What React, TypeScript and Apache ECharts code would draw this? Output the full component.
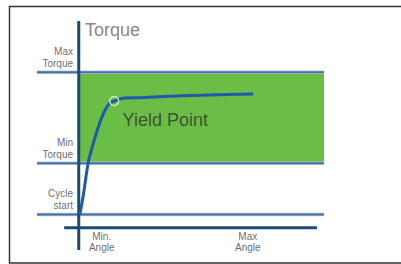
import React, { useEffect, useRef } from "react";
import * as echarts from "echarts";

// Reference levels (torque units) and extents
const cycleStart = 6;
const minTorque = 29;
const maxTorque = 70;
const refLineX = [-16, 94];
const bandX = [0, 94];
const xAxisLine = [[-5.6, 0], [91.3, 0]];
const yAxisLine = [[0, -10], [0, 93]];

// Torque curve (angle, torque)
const curveAngle = [0.4, 1.8, 3.7, 6.2, 8.2, 10.1, 12.0, 13.6, 17.1, 23.5, 37.6, 50.3, 66.9];
const curveTorque = [6, 15, 29.7, 40.4, 47.7, 53, 56.1, 57, 58.3, 58.5, 59.3, 59.7, 60.2];
const yieldPoint = [13.6, 57];

// Left labels at each level
const levelLabels = ["Max\nTorque", "Min\nTorque", "Cycle\nstart"];
const levelValues = [maxTorque, minTorque, cycleStart];
const angleLabels = ["Min.\nAngle", "Max\nAngle"];
const angleValues = [8.8, 64.8];

const FONT = "'Liberation Sans', Arial, sans-serif";

export default function App() {
  const ref = useRef<HTMLDivElement>(null);
  useEffect(() => {
    if (!ref.current) return;
    const chart = echarts.init(ref.current, undefined, { renderer: "svg" });
    const refColor = "#4a70a6";
    const axisColor = "#1b4a77";
    const refLine = (y: number, w: number, c: string, z: number) => ({
      type: "line",
      data: [[refLineX[0], y], [refLineX[1], y]],
      symbol: "none",
      clip: false,
      lineStyle: { color: c, width: w },
      silent: true,
      z,
    });
    const refLines: any[] = [];
    [maxTorque, minTorque, cycleStart].forEach((v) => {
      refLines.push(refLine(v, 3.5, "#b4c6de", 2));
      refLines.push(refLine(v, 2, refColor, 3));
    });
    chart.setOption({
      animation: false,
      backgroundColor: "#ffffff",
      grid: { left: 37, right: 77, top: 21, bottom: 14 },
      xAxis: { type: "value", min: -16, max: 94, show: false },
      yAxis: { type: "value", min: -10, max: 93, show: false },
      graphic: [
        {
          type: "rect",
          shape: { x: 9.5, y: 6.5, width: 400, height: 256.5 },
          style: { fill: "none", stroke: "#333333", lineWidth: 1.5 },
          z: 100,
        },
      ],
      series: [
        {
          type: "line",
          data: [],
          markArea: {
            silent: true,
            itemStyle: { color: "#6abd45" },
            data: [[{ coord: [bandX[0], minTorque] }, { coord: [bandX[1], maxTorque] }]],
          },
          z: 1,
        },
        ...refLines,
        {
          type: "line",
          data: xAxisLine,
          symbol: "none",
          clip: false,
          lineStyle: { color: axisColor, width: 3 },
          z: 4,
        },
        {
          type: "line",
          data: yAxisLine,
          symbol: "none",
          clip: false,
          lineStyle: { color: axisColor, width: 3 },
          z: 4,
        },
        {
          type: "line",
          data: curveAngle.map((a, i) => [a, curveTorque[i]]),
          symbol: "none",
          smooth: 0.3,
          clip: false,
          lineStyle: { color: "#1f5aa8", width: 3 },
          z: 5,
        },
        {
          type: "scatter",
          data: [yieldPoint],
          symbol: "circle",
          symbolSize: 9,
          itemStyle: { color: "rgba(0,0,0,0)", borderColor: "#e8f2e0", borderWidth: 1.5 },
          z: 6,
        },
        {
          type: "scatter",
          symbolSize: 0,
          z: 7,
          data: levelValues.map((v, i) => ({ value: [-2.2, v], name: levelLabels[i] })),
          label: {
            show: true,
            position: [0, -3],
            align: "right",
            verticalAlign: "bottom",
            formatter: (p: any) => p.name,
            fontFamily: FONT,
            fontSize: 10,
            lineHeight: 12,
            color: "#444444",
          },
        },
        {
          type: "scatter",
          symbolSize: 0,
          z: 7,
          data: angleValues.map((v, i) => ({ value: [v, 0], name: angleLabels[i] })),
          label: {
            show: true,
            position: [0, 3],
            align: "center",
            verticalAlign: "top",
            formatter: (p: any) => p.name,
            fontFamily: FONT,
            fontSize: 10,
            lineHeight: 11,
            color: "#444444",
          },
        },
        {
          type: "scatter",
          symbolSize: 0,
          z: 7,
          data: [{ value: [2.4, 89], name: "Torque" }],
          label: {
            show: true,
            position: [0, 0],
            align: "left",
            verticalAlign: "middle",
            formatter: (p: any) => p.name,
            fontFamily: FONT,
            fontSize: 18,
            color: "#666666",
          },
        },
        {
          type: "scatter",
          symbolSize: 0,
          z: 7,
          data: [{ value: [16.8, 48.5], name: "Yield Point" }],
          label: {
            show: true,
            position: [0, 0],
            align: "left",
            verticalAlign: "middle",
            formatter: (p: any) => p.name,
            fontFamily: FONT,
            fontSize: 18,
            color: "#333333",
          },
        },
      ],
    });
    return () => chart.dispose();
  }, []);
  return (
    <div
      ref={ref}
      style={{ position: "fixed", left: 0, top: 0, width: 401, height: 264 }}
    />
  );
}
